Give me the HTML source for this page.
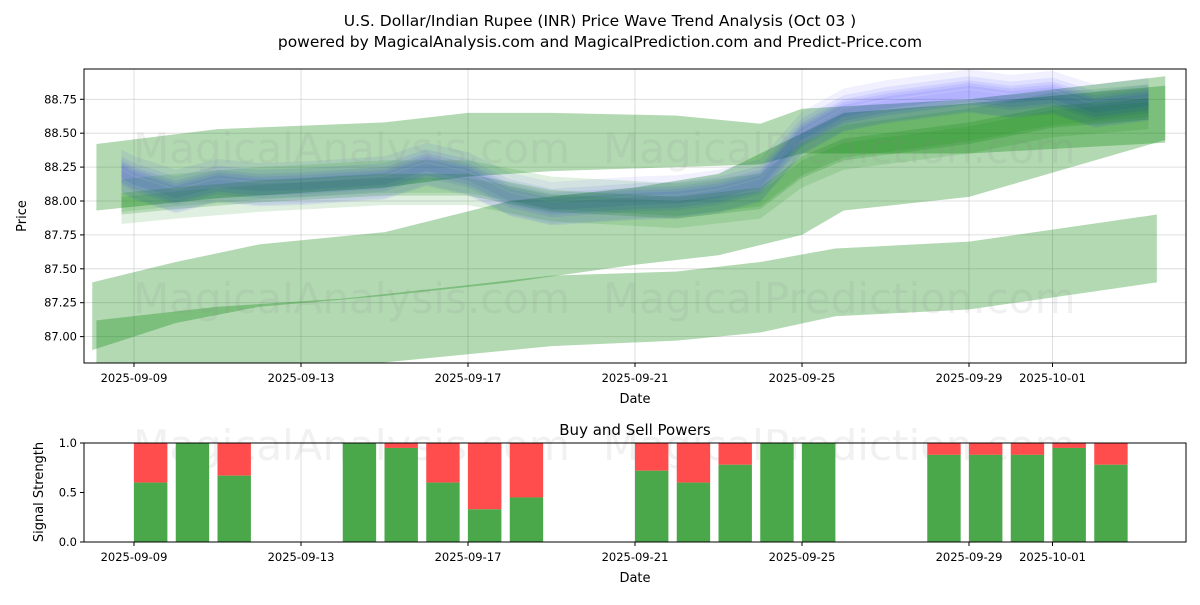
<!DOCTYPE html>
<html><head><meta charset="utf-8">
<style>
body{margin:0;background:#fff;font-family:"Liberation Sans","DejaVu Sans",sans-serif;}
svg text{font-family:"DejaVu Sans","Liberation Sans",sans-serif;}
</style></head>
<body>
<svg id="chart" width="1200" height="600" viewBox="0 0 1200 600" xmlns="http://www.w3.org/2000/svg">
<rect width="1200" height="600" fill="#fff"/>
<text x="600" y="26" text-anchor="middle" font-size="15.5">U.S. Dollar/Indian Rupee (INR) Price Wave Trend Analysis (Oct 03 )</text>
<text x="600" y="47" text-anchor="middle" font-size="15.5">powered by MagicalAnalysis.com and MagicalPrediction.com and Predict-Price.com</text>
<defs>
<clipPath id="clipTop"><rect x="84" y="69" width="1102" height="294"/></clipPath>
</defs>
<g id="topGrid"></g>
<g id="topBands" clip-path="url(#clipTop)"></g>
<g fill="#888" fill-opacity="0.12" font-size="42">
<text x="133" y="163">MagicalAnalysis.com</text><text x="603" y="163">MagicalPrediction.com</text>
<text x="133" y="313">MagicalAnalysis.com</text><text x="603" y="313">MagicalPrediction.com</text>
</g>
<rect x="84" y="69" width="1102" height="294" fill="none" stroke="#000" stroke-width="1"/>
<g id="topAxes"></g>
<text x="635" y="403" text-anchor="middle" font-size="13">Date</text>
<text transform="translate(26,216) rotate(-90)" text-anchor="middle" font-size="13">Price</text>

<text x="635" y="435" text-anchor="middle" font-size="15">Buy and Sell Powers</text>
<g id="botGrid"></g>
<g fill="#888" fill-opacity="0.12" font-size="42">
<text x="133" y="460">MagicalAnalysis.com</text><text x="603" y="460">MagicalPrediction.com</text>
</g>
<g id="bars"></g>
<rect x="84" y="443" width="1102" height="99" fill="none" stroke="#000" stroke-width="1"/>
<g id="botAxes"></g>
<text x="635" y="582" text-anchor="middle" font-size="13">Date</text>
<text transform="translate(43,492) rotate(-90)" text-anchor="middle" font-size="13">Signal Strength</text>
</svg>
<script>
const xTickDays=[0,4,8,12,16,20,22];
const xTickLabels=["2025-09-09","2025-09-13","2025-09-17","2025-09-21","2025-09-25","2025-09-29","2025-10-01"];
const yTickValues=[87.0,87.25,87.5,87.75,88.0,88.25,88.5,88.75];
const yTickLabels=["87.00","87.25","87.50","87.75","88.00","88.25","88.50","88.75"];
// wide green bands
const bandADays=[-0.9,2,6,8,10,13,15,16,20,24.7];
const bandATop=[88.42,88.53,88.58,88.65,88.65,88.63,88.57,88.68,88.75,88.92];
const bandABot=[87.93,88.02,88.1,88.18,88.22,88.25,88.27,88.35,88.35,88.43];
const bandBDays=[-1,1,3,6,9,12,14,16,17,20,24.7];
const bandBTop=[87.4,87.55,87.68,87.77,88.0,88.1,88.2,88.5,88.65,88.72,88.85];
const bandBBot=[86.9,87.1,87.22,87.3,87.4,87.53,87.6,87.75,87.93,88.03,88.45];
const bandCDays=[-0.9,2,5,8,10,13,15,16.8,20,24.5];
const bandCTop=[87.12,87.22,87.28,87.38,87.45,87.48,87.55,87.65,87.7,87.9];
const bandCBot=[86.6,86.7,86.78,86.87,86.93,86.97,87.03,87.15,87.2,87.4];
// narrow green bands
const greenDays=[-0.3,1,3,6,8,10,13,15,16,17,20,22,24.3];
const greenCenter=[87.98,88.02,88.07,88.12,88.12,88.0,87.95,88.02,88.25,88.38,88.5,88.62,88.68];
// blue wave
const blueDays=[-0.3,0,1,2,3,4,5,6,7,8,9,10,11,12,13,14,15,16,17,18,19,20,21,22,23,24.3];
const blueCenter=[88.17,88.12,88.02,88.1,88.07,88.08,88.1,88.12,88.22,88.15,88.0,87.93,87.95,87.97,87.98,88.02,88.1,88.45,88.62,88.68,88.72,88.76,88.72,88.75,88.65,88.7];
// buy/sell
const barDays=[0,1,2,5,6,7,8,9,12,13,14,15,16,19,20,21,22,23];
const buyValues=[0.6,1.0,0.67,1.0,0.95,0.6,0.33,0.45,0.72,0.6,0.78,1.0,1.0,0.88,0.88,0.88,0.95,0.78];
const powTicks=[0,0.5,1.0];
const powTickLabels=["0.0","0.5","1.0"];

const NS="http://www.w3.org/2000/svg";
const X=d=>134+d*41.75;
const Y=v=>201-(v-88)*135.6;
const YB=v=>542-v*99;
function mk(tag,attrs,parent){const e=document.createElementNS(NS,tag);for(const k in attrs)e.setAttribute(k,attrs[k]);parent.appendChild(e);return e;}
const topGrid=document.getElementById('topGrid'),topBands=document.getElementById('topBands'),topAxes=document.getElementById('topAxes');
const botGrid=document.getElementById('botGrid'),bars=document.getElementById('bars'),botAxes=document.getElementById('botAxes');

xTickDays.forEach((d,i)=>{
  const g=mk('line',{x1:X(d),x2:X(d),y1:69,y2:363,stroke:'#b0b0b0','stroke-opacity':0.5,'stroke-width':0.8},topGrid);
  
  
  mk('line',{x1:X(d),x2:X(d),y1:363,y2:367,stroke:'#000'},topAxes);
  const t=mk('text',{x:X(d),y:382,'text-anchor':'middle','font-size':11.5},topAxes);t.textContent=xTickLabels[i];
  
  
  const g2=mk('line',{x1:X(d),x2:X(d),y1:443,y2:542,stroke:'#b0b0b0','stroke-opacity':0.5,'stroke-width':0.8},botGrid);
  
  
  mk('line',{x1:X(d),x2:X(d),y1:542,y2:546,stroke:'#000'},botAxes);
  const t2=mk('text',{x:X(d),y:561,'text-anchor':'middle','font-size':11.5},botAxes);t2.textContent=xTickLabels[i];
  
  
});
yTickValues.forEach((v,i)=>{
  const g=mk('line',{x1:84,x2:1186,y1:Y(v),y2:Y(v),stroke:'#b0b0b0','stroke-opacity':0.5,'stroke-width':0.8},topGrid);
  
  
  mk('line',{x1:80,x2:84,y1:Y(v),y2:Y(v),stroke:'#000'},topAxes);
  const t=mk('text',{x:77,y:Y(v)+4,'text-anchor':'end','font-size':11.5},topAxes);t.textContent=yTickLabels[i];
  
  
});
powTicks.forEach((v,i)=>{
  mk('line',{x1:80,x2:84,y1:YB(v),y2:YB(v),stroke:'#000'},botAxes);
  const t=mk('text',{x:77,y:YB(v)+4,'text-anchor':'end','font-size':11.5},botAxes);t.textContent=powTickLabels[i];
  
  
});

function band(days,top,bot,fill,op,name){
  let pts=days.map((d,i)=>X(d)+','+Y(top[i]));
  for(let i=days.length-1;i>=0;i--)pts.push(X(days[i])+','+Y(bot[i]));
  const p=mk('polygon',{points:pts.join(' '),fill:fill,'fill-opacity':op},topBands);
  
  
}
const G='#008000',B='#0000ff';
band(bandADays,bandATop,bandABot,G,0.3,'wave-band-upper');
band(bandBDays,bandBTop,bandBBot,G,0.3,'wave-band-middle');
band(bandCDays,bandCTop,bandCBot,G,0.3,'wave-band-lower');
[[0.14,0.07,0.06],[0.08,0.08,0.07],[0.04,0.09,0.07],[0,0.11,0.07]].forEach(([o,h,op])=>{
  band(blueDays,blueCenter.map(v=>v+o+h),blueCenter.map(v=>v+o-h),B,op,'blue-wave-band');
});
[[0.06,0.12,0.12],[0,0.08,0.18],[-0.05,0.1,0.12]].forEach(([o,h,op])=>{
  band(greenDays,greenCenter.map(v=>v+o+h),greenCenter.map(v=>v+o-h),G,op,'green-wave-band');
});
[[-0.02,0.08,0.06],[0.03,0.06,0.07]].forEach(([o,h,op])=>{
  band(blueDays,blueCenter.map(v=>v+o+h),blueCenter.map(v=>v+o-h),B,op,'blue-wave-band');
});

barDays.forEach((d,i)=>{
  const x=X(d),w=0.8*41.75;
  const r=mk('rect',{x:x,y:YB(1),width:w,height:YB(buyValues[i])-YB(1),fill:'#ff4c4c'},bars);
  
  
  const g=mk('rect',{x:x,y:YB(buyValues[i]),width:w,height:YB(0)-YB(buyValues[i]),fill:'#4aa84a'},bars);
  
  
});
</script>
</body></html>
